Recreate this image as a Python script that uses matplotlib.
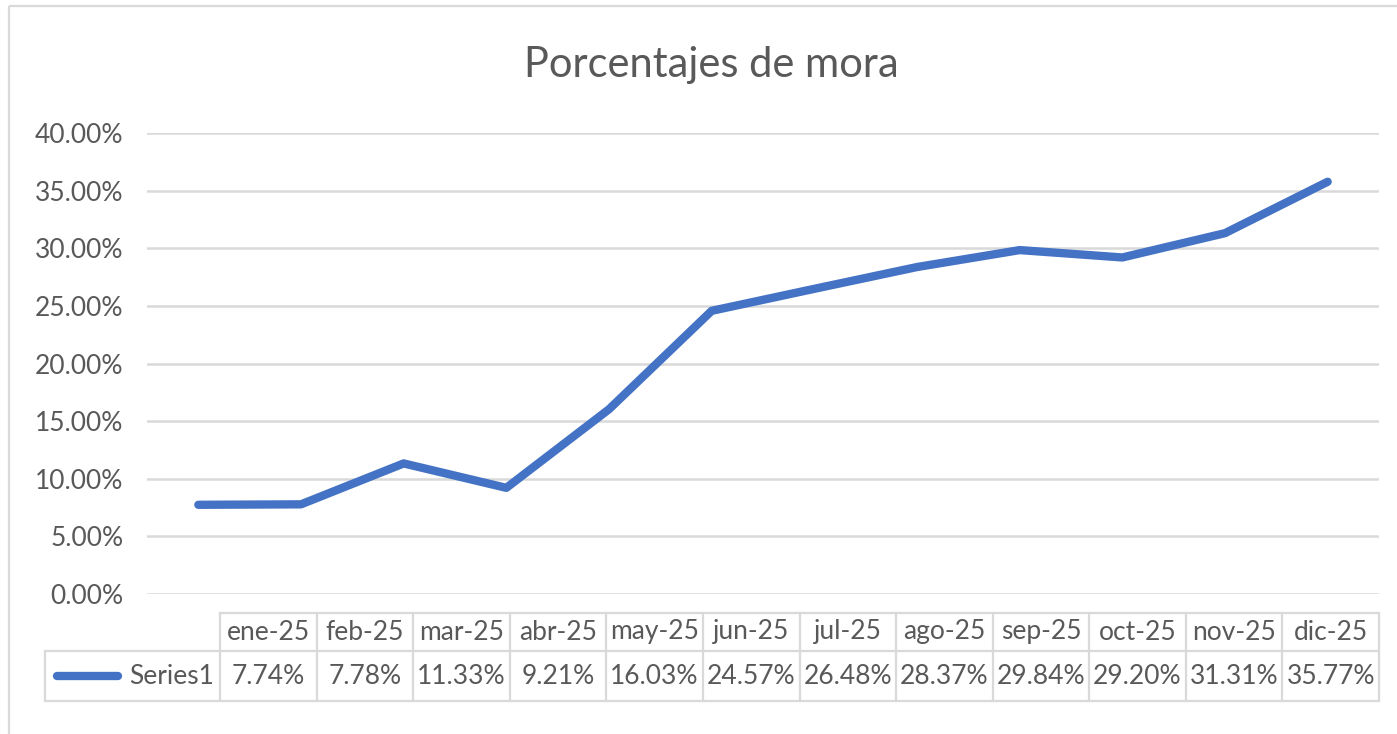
import matplotlib.pyplot as plt
from matplotlib.patches import Rectangle

plt.rcParams['font.family'] = ['Lato', 'DejaVu Sans']

months = ['ene-25', 'feb-25', 'mar-25', 'abr-25', 'may-25', 'jun-25',
          'jul-25', 'ago-25', 'sep-25', 'oct-25', 'nov-25', 'dic-25']
mora = [7.74, 7.78, 11.33, 9.21, 16.03, 24.57, 26.48, 28.37, 29.84, 29.20, 31.31, 35.77]
series_name = 'Series1'
y_ticks = [0, 5, 10, 15, 20, 25, 30, 35, 40]

W, H = 1397, 734
text_c = '#595959'
grid_c = '#D9D9D9'
line_c = '#4472C4'

fig = plt.figure(figsize=(W / 100, H / 100), dpi=100)

# full-figure overlay in pixel units for the frame and data table
bg = fig.add_axes([0, 0, 1, 1])
bg.set_xlim(0, W)
bg.set_ylim(H, 0)
bg.axis('off')
bg.add_patch(Rectangle((9, 6), W + 20, H + 20, fill=False, ec=grid_c, lw=1.6))

# plot area
x0, x1, y_top, y_bot = 147, 1379, 133, 594
ax = fig.add_axes([x0 / W, (H - y_bot) / H, (x1 - x0) / W, (y_bot - y_top) / H])
ax.set_xlim(-0.5, len(months) - 0.5)
ax.set_ylim(0, 40)
ax.set_yticks(y_ticks)
ax.set_yticklabels([f'{v:.2f}%' for v in y_ticks])
ax.set_xticks([])
ax.tick_params(axis='y', length=0, pad=17, labelsize=19, labelcolor=text_c)
ax.grid(axis='y', color=grid_c, lw=1.8)
for s in ax.spines.values():
    s.set_visible(False)
ax.set_facecolor('none')
ax.plot(range(len(months)), mora, color=line_c, lw=6, solid_capstyle='round',
        solid_joinstyle='round', zorder=3)

fig.text(711 / W, 1 - 65 / H, 'Porcentajes de mora', ha='center', va='center',
         fontsize=30, color=text_c)

# data table below the plot
t_left, t_right = 220, 1379
r0, r1, r2 = 613, 651, 701
key_left = 45
col_w = (t_right - t_left) / len(months)
lw_t = 1.6
bg.plot([t_left, t_right], [r0, r0], color=grid_c, lw=lw_t)
bg.plot([key_left, t_right], [r1, r1], color=grid_c, lw=lw_t)
bg.plot([key_left, t_right], [r2, r2], color=grid_c, lw=lw_t)
bg.plot([key_left, key_left], [r1, r2], color=grid_c, lw=lw_t)
for i in range(len(months) + 1):
    x = t_left + i * col_w
    bg.plot([x, x], [r0, r2], color=grid_c, lw=lw_t)
for i, (m, v) in enumerate(zip(months, mora)):
    cx = t_left + (i + 0.5) * col_w
    bg.text(cx, (r0 + r1) / 2, m, ha='center', va='center', fontsize=19, color=text_c)
    bg.text(cx, (r1 + r2) / 2, f'{v:.2f}%', ha='center', va='center', fontsize=19, color=text_c)
bg.plot([57, 118], [(r1 + r2) / 2] * 2, color=line_c, lw=6, solid_capstyle='round')
bg.text(t_left - 6, (r1 + r2) / 2, series_name, ha='right', va='center', fontsize=19, color=text_c)

fig.savefig('out.png', dpi=100)
